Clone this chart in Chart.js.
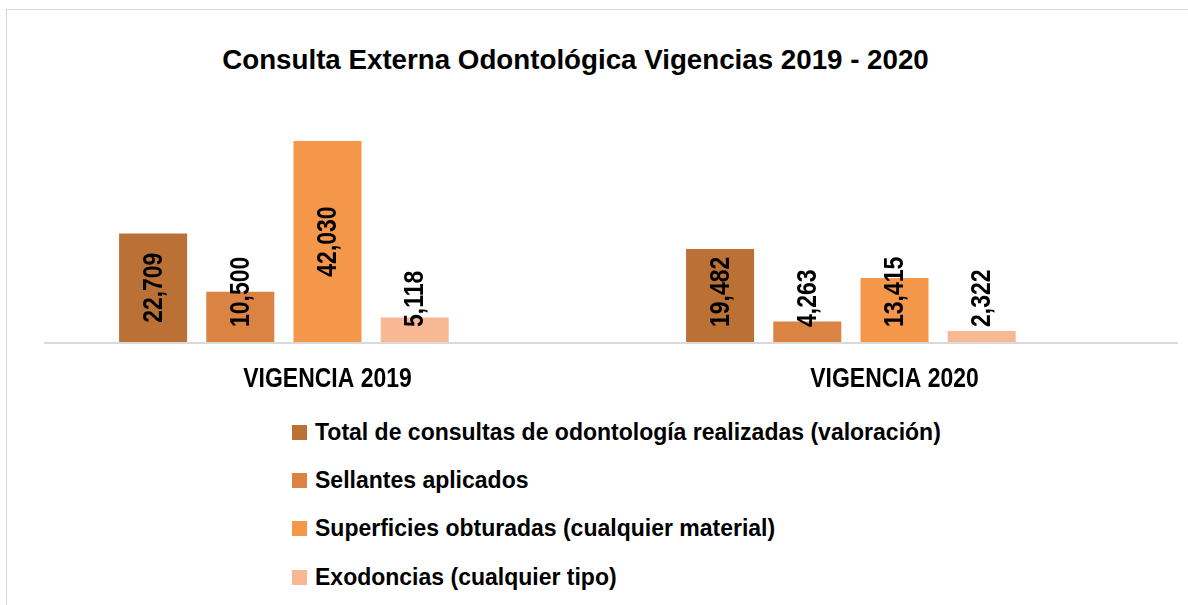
<!DOCTYPE html>
<html>
<head>
<meta charset="utf-8">
<script src="https://cdn.jsdelivr.net/npm/chart.js@4"></script>
<style>
  html, body { margin: 0; padding: 0; background: #fff; }
  body { width: 1188px; height: 605px; position: relative; overflow: hidden;
         font-family: "Liberation Sans", Arial, sans-serif; }
  #frame { position: absolute; left: 6px; top: 9px; right: 0; bottom: 0;
           border-top: 1px solid #d4d4d4; border-left: 1px solid #d4d4d4; }
  #title { position: absolute; left: 0; width: 1151px; top: 44px; text-align: center;
           font-size: 28px; font-weight: bold; color: #000; transform: scaleX(0.99); }
  #chartBox { position: absolute; left: 0; top: 0; width: 1188px; height: 400px; }
  #legend { position: absolute; left: 292px; top: 408px; }
  .item { height: 48.3px; display: flex; align-items: center; font-size: 23px; font-weight: bold; color: #000; }
  .box { width: 15px; height: 15px; margin-right: 8px; }
</style>
</head>
<body>
<div id="frame"></div>
<div id="title">Consulta Externa Odontológica Vigencias 2019 - 2020</div>
<div id="chartBox"><canvas id="chart"></canvas></div>
<div id="legend"></div>
<script>
// ============================
// datos
// ============================
const categorias = ['VIGENCIA 2019', 'VIGENCIA 2020'];
const series = [
  'Total de consultas de odontología realizadas (valoración)',
  'Sellantes aplicados',
  'Superficies obturadas (cualquier material)',
  'Exodoncias (cualquier tipo)'
];
const totalConsultas = [22709, 19482];
const sellantes = [10500, 4263];
const superficies = [42030, 13415];
const exodoncias = [5118, 2322];
const colores = ['#bb7135', '#da8342', '#f5974a', '#f8b894'];

const FONT = '"Liberation Sans", Arial, sans-serif';
const ANGOSTO = 0.82; // la fuente original es angosta

// eje, categorías y etiquetas de datos
const etiquetas = {
  id: 'etiquetas',
  afterDatasetsDraw(chart) {
    const ctx = chart.ctx;
    const area = chart.chartArea;
    ctx.save();
    // línea del eje
    ctx.strokeStyle = '#d9d9d9';
    ctx.lineWidth = 2;
    ctx.beginPath();
    ctx.moveTo(area.left, area.bottom + 1);
    ctx.lineTo(area.right, area.bottom + 1);
    ctx.stroke();

    ctx.font = 'bold 28px ' + FONT;
    ctx.fillStyle = '#000';
    ctx.textAlign = 'center';
    ctx.textBaseline = 'middle';

    // categorías
    const xs = chart.scales.x;
    chart.data.labels.forEach((lab, i) => {
      ctx.save();
      ctx.translate(xs.getPixelForValue(i), area.bottom + 37);
      ctx.scale(ANGOSTO, 1);
      ctx.fillText(lab, 0, 0);
      ctx.restore();
    });

    // valores girados
    chart.data.datasets.forEach((ds, i) => {
      if (!ds.label) return;
      chart.getDatasetMeta(i).data.forEach((bar, j) => {
        const v = ds.data[j];
        if (v == null) return;
        const txt = v.toLocaleString('en-US');
        const w = ctx.measureText(txt).width * ANGOSTO;
        const cy = Math.min((bar.y + bar.base) / 2, bar.base - 15 - w / 2);
        ctx.save();
        ctx.translate(bar.x, cy);
        ctx.rotate(-Math.PI / 2);
        ctx.scale(ANGOSTO, 1);
        ctx.fillText(txt, 0, 1);
        ctx.restore();
      });
    });
    ctx.restore();
  }
};

const datos = [totalConsultas, sellantes, superficies, exodoncias];
const datasets = datos.map((d, i) => ({
  label: series[i],
  data: d,
  backgroundColor: colores[i],
  borderWidth: 0
}));
// serie vacía (hueco a la derecha de cada grupo)
datasets.push({ label: '', data: [null, null], backgroundColor: 'rgba(0,0,0,0)' });

const chart = new Chart(document.getElementById('chart'), {
  type: 'bar',
  data: { labels: categorias, datasets: datasets },
  options: {
    responsive: true,
    maintainAspectRatio: false,
    animation: false,
    layout: { padding: { left: 44, right: 10, top: 103, bottom: 0 } },
    datasets: { bar: { categoryPercentage: 0.769, barPercentage: 0.78 } },
    plugins: { legend: { display: false }, title: { display: false }, tooltip: { enabled: false } },
    scales: {
      x: {
        grid: { display: false },
        border: { display: false },
        ticks: { display: false },
        afterFit(scale) { scale.height = 58; }
      },
      y: { display: false, min: 0, max: 50000 }
    }
  },
  plugins: [etiquetas]
});

// leyenda en columna
const legend = document.getElementById('legend');
chart.data.datasets.forEach(ds => {
  if (!ds.label) return;
  legend.innerHTML += `<div class="item"><span class="box" style="background:${ds.backgroundColor}"></span>${ds.label}</div>`;
});
</script>
</body>
</html>
